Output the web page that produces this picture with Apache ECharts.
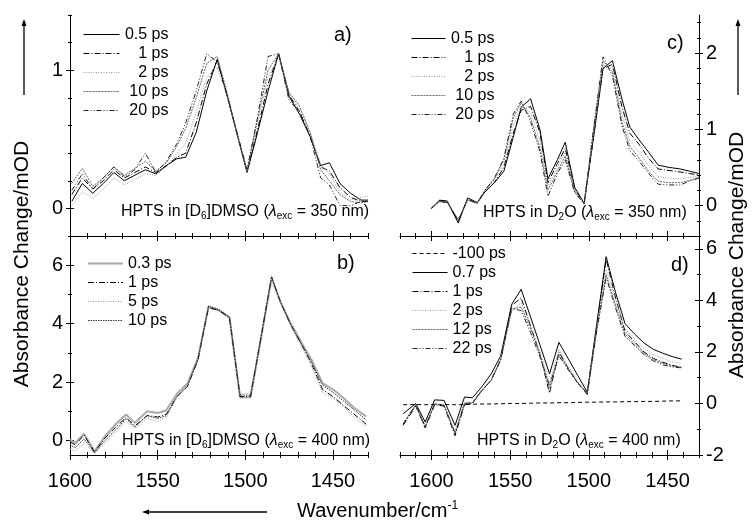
<!DOCTYPE html>
<html><head><meta charset="utf-8">
<script src="https://cdn.jsdelivr.net/npm/echarts@6/dist/echarts.min.js"></script>
<style>html,body{margin:0;padding:0;background:#fff}#c{width:752px;height:525px}</style>
</head><body><div id="c"></div>
<script>
// ---------- data ----------
// Panel a: HPTS in [D6]DMSO, 350 nm excitation
const xA = [1599,1593,1587,1581,1575,1569,1563,1557,1551,1545,1539,1534,1528,1522,1516,1510,1505,1499,1493,1487,1481,1475,1469,1463,1457,1452,1446,1440,1434,1430];
const a_0_5ps = [0.05,0.18,0.11,0.18,0.26,0.20,0.24,0.28,0.25,0.31,0.36,0.37,0.55,0.85,1.08,0.80,0.55,0.26,0.55,0.85,1.12,0.81,0.68,0.52,0.31,0.33,0.18,0.11,0.06,0.06];
const a_1ps   = [0.10,0.22,0.14,0.20,0.28,0.22,0.26,0.30,0.26,0.31,0.37,0.40,0.62,0.90,1.07,0.80,0.56,0.27,0.57,0.90,1.12,0.82,0.70,0.52,0.30,0.27,0.15,0.08,0.05,0.05];
const a_2ps   = [0.02,0.12,0.07,0.14,0.22,0.17,0.21,0.25,0.24,0.30,0.40,0.47,0.70,0.95,1.02,0.80,0.55,0.27,0.62,0.95,1.10,0.83,0.72,0.55,0.32,0.25,0.12,0.06,0.08,0.09];
const a_10ps  = [0.18,0.29,0.16,0.22,0.30,0.24,0.29,0.34,0.27,0.33,0.45,0.58,0.80,1.05,1.10,0.82,0.56,0.27,0.65,1.00,1.12,0.84,0.74,0.55,0.28,0.20,0.10,0.05,0.04,0.05];
const a_20ps  = [0.13,0.25,0.14,0.22,0.30,0.23,0.28,0.40,0.26,0.34,0.47,0.62,0.85,1.12,1.06,0.80,0.56,0.28,0.66,1.10,1.12,0.78,0.70,0.52,0.22,0.17,0.02,0.02,0.05,0.05];

// Panel b: HPTS in [D6]DMSO, 400 nm excitation
const xB = [1600,1597,1592,1586,1580,1574,1568,1563,1556,1550,1545,1539,1533,1527,1521,1515,1509,1503,1497,1491,1485,1480,1474,1468,1462,1456,1450,1444,1438,1431];
const b_0_3ps = [0.03,-0.09,0.23,-0.37,0.15,0.55,0.89,0.60,1.00,0.94,1.03,1.60,1.95,2.80,4.57,4.45,4.20,1.47,1.48,3.50,5.55,4.75,4.00,3.35,2.74,1.96,1.75,1.45,1.12,0.82];
const b_1ps   = [-0.05,-0.15,0.18,-0.40,0.08,0.45,0.78,0.50,0.85,0.80,0.90,1.50,1.85,2.75,4.55,4.45,4.20,1.50,1.50,3.55,5.60,4.75,3.95,3.30,2.60,1.75,1.50,1.20,0.90,0.55];
const b_5ps   = [-0.30,-0.35,-0.10,-0.45,-0.10,0.25,0.65,0.40,0.75,0.65,0.80,1.50,1.90,2.85,4.62,4.50,4.25,1.60,1.60,3.60,5.65,4.70,3.90,3.20,2.50,1.65,1.45,1.15,0.80,0.45];
const b_10ps  = [-0.15,-0.25,0.05,-0.42,0.00,0.35,0.75,0.45,0.85,0.75,0.85,1.50,1.85,2.80,4.60,4.48,4.22,1.55,1.55,3.55,5.60,4.75,3.95,3.30,2.65,1.90,1.65,1.35,1.05,0.70];

// Panel c: HPTS in D2O, 350 nm excitation
const xC = [1600,1595,1590,1583,1577,1571,1566,1560,1554,1548,1543,1537,1531,1526,1520,1515,1509,1503,1497,1491,1485,1479,1474,1468,1462,1456,1449,1442,1436,1430];
const c_0_5ps = [-0.04,0.07,0.06,-0.23,0.10,0.04,0.18,0.30,0.45,0.90,1.29,1.40,0.99,0.35,0.60,0.83,0.24,0.03,0.90,1.80,1.90,1.40,1.03,0.86,0.70,0.53,0.50,0.48,0.45,0.42];
const c_1ps   = [-0.04,0.06,0.05,-0.20,0.08,0.03,0.18,0.30,0.50,0.95,1.25,1.30,0.95,0.30,0.55,0.75,0.22,0.02,0.90,1.80,1.85,1.30,0.95,0.80,0.62,0.48,0.46,0.44,0.42,0.40];
const c_2ps   = [-0.03,0.05,0.05,-0.18,0.08,0.03,0.20,0.33,0.55,1.05,1.30,1.22,0.85,0.25,0.50,0.70,0.20,0.03,0.95,1.85,1.80,1.20,0.85,0.70,0.52,0.38,0.36,0.35,0.37,0.38];
const c_10ps  = [-0.03,0.05,0.04,-0.18,0.07,0.03,0.20,0.35,0.60,1.15,1.35,1.15,0.75,0.20,0.45,0.65,0.18,0.03,1.00,1.90,1.75,1.10,0.78,0.62,0.45,0.32,0.30,0.30,0.33,0.37];
const c_20ps  = [-0.03,0.05,0.04,-0.20,0.08,0.03,0.20,0.36,0.62,1.20,1.37,1.10,0.70,0.12,0.42,0.60,0.17,0.02,1.00,1.95,1.70,1.05,0.72,0.58,0.42,0.28,0.27,0.27,0.32,0.36];

// Panel d: HPTS in D2O, 400 nm excitation
const xD = [1618,1610,1604,1598,1592,1585,1579,1574,1568,1562,1556,1549,1543,1537,1531,1525,1519,1513,1507,1501,1495,1489,1483,1477,1471,1465,1459,1453,1447,1441];
const d_m100ps = [-0.05,-0.04,-0.05,-0.04,-0.04,-0.05,-0.04,-0.03,-0.02,-0.02,-0.01,0.00,0.00,0.01,0.02,0.02,0.03,0.03,0.04,0.05,0.05,0.06,0.06,0.07,0.07,0.08,0.08,0.09,0.10,0.10];
const d_0_7ps  = [-0.40,0.00,-0.72,0.14,0.12,-0.85,0.25,0.22,0.65,1.15,1.85,3.85,4.43,3.35,2.26,1.15,2.37,1.73,1.08,0.44,3.07,5.70,4.30,3.10,2.70,2.35,2.10,1.95,1.82,1.72];
const d_1ps    = [-0.85,-0.10,-0.95,-0.05,-0.10,-1.25,-0.05,0.00,0.50,0.90,1.70,3.80,4.10,3.00,1.90,0.40,2.00,1.35,0.80,0.35,3.00,5.60,4.10,2.80,2.40,2.00,1.75,1.60,1.48,1.40];
const d_2ps    = [-0.75,-0.05,-0.85,0.00,-0.05,-1.10,0.05,0.05,0.55,0.95,1.75,3.60,3.90,3.00,2.00,0.80,2.10,1.45,0.85,0.40,2.90,5.20,4.00,2.90,2.50,2.15,1.90,1.75,1.62,1.55];
const d_12ps   = [-0.80,-0.05,-0.90,-0.02,-0.08,-1.15,0.00,0.02,0.50,0.90,1.70,3.65,3.75,2.90,1.90,0.60,1.90,1.35,0.80,0.40,2.85,5.00,3.80,2.70,2.30,1.95,1.70,1.55,1.45,1.40];
const d_22ps   = [-0.80,-0.05,-0.90,-0.02,-0.08,-1.15,0.00,0.02,0.50,0.90,1.70,3.70,3.60,2.75,1.80,0.70,1.85,1.30,0.78,0.40,2.80,4.90,3.70,2.60,2.25,1.90,1.65,1.50,1.42,1.38];

// tick labels
const xTickLabels = [1450, 1500, 1550, 1600];
const aYTicks = [0, 1];
const bYTicks = [0, 2, 4, 6];
const cYTicks = [0, 1, 2];
const dYTicks = [-2, 0, 2, 4, 6];

// ---------- build ----------
const FONT = "'Liberation Sans', Arial, Helvetica, sans-serif";
const BLK = '#000';
function range(a, b, step) { const out = []; const n = Math.round((b - a) / step); for (let i = 0; i <= n; i++) out.push(+(a + i * step).toFixed(4)); return out; }

const ST = {
  solid:   { type: 'solid', color: '#000', width: 1 },
  dashdot: { type: [6, 2, 1, 2], color: '#000', width: 1 },
  dotLt:   { type: [1, 1.5], color: '#999', width: 1 },
  dotGr:   { type: [2, 1], color: '#666', width: 1 },
  dotBk:   { type: [1.5, 1], color: '#333', width: 1 },
  dashdd:  { type: [5, 2, 1, 2, 1, 2], color: '#222', width: 1 },
  dash:    { type: [4, 3], color: '#000', width: 1 },
  gray2:   { type: 'solid', color: '#aaa', width: 2 }
};

const grid = [
  { left: 70, top: 15, width: 298, height: 221 },   // a
  { left: 70, top: 236, width: 298, height: 219 },  // b
  { left: 400, top: 15, width: 299, height: 221 },  // c
  { left: 400, top: 236, width: 299, height: 219 }  // d
];
const xAxis = [], yAxis = [], series = [];
const tl = { color: BLK, width: 1 };
const plain = v => String(v);

function addX(g, min, max, showLabels) {
  const idx = xAxis.length;
  const minors = range(min, max, 10);
  const common = { type: 'value', gridIndex: g, min, max, inverse: true, position: 'bottom',
    splitLine: { show: false }, axisLine: { show: false, onZero: false }, axisLabel: { show: false } };
  xAxis.push(Object.assign({}, common, {
    axisLine: { show: true, onZero: false, lineStyle: { color: BLK, width: 1 } },
    axisTick: { show: true, inside: true, length: 3, customValues: minors, lineStyle: tl },
    axisLabel: { show: showLabels, customValues: xTickLabels, formatter: plain, margin: 16, fontSize: 20, color: BLK, fontFamily: FONT }
  }));
  xAxis.push(Object.assign({}, common, { axisTick: { show: true, inside: false, length: 3, customValues: minors, lineStyle: tl } }));
  xAxis.push(Object.assign({}, common, { axisTick: { show: true, inside: true, length: 5, customValues: xTickLabels, lineStyle: tl } }));
  xAxis.push(Object.assign({}, common, { axisTick: { show: true, inside: false, length: 5, customValues: xTickLabels, lineStyle: tl } }));
  return idx;
}
function addY(g, min, max, pos, majors, minors) {
  const idx = yAxis.length;
  const common = { type: 'value', gridIndex: g, min, max, position: pos,
    splitLine: { show: false }, axisLine: { show: false, onZero: false }, axisLabel: { show: false } };
  yAxis.push(Object.assign({}, common, {
    axisLine: { show: true, onZero: false, lineStyle: { color: BLK, width: 1 } },
    axisTick: { show: true, inside: false, length: 4, customValues: majors, lineStyle: tl },
    axisLabel: { show: true, customValues: majors, formatter: plain, margin: 7, fontSize: 20, color: BLK, fontFamily: FONT }
  }));
  yAxis.push(Object.assign({}, common, { axisTick: { show: true, inside: true, length: 4, customValues: majors, lineStyle: tl } }));
  yAxis.push(Object.assign({}, common, { axisTick: { show: true, inside: false, length: 2, customValues: minors, lineStyle: tl } }));
  yAxis.push(Object.assign({}, common, { axisTick: { show: true, inside: true, length: 2, customValues: minors, lineStyle: tl } }));
  return idx;
}
function addS(name, xs, ys, xi, yi, st) {
  series.push({ type: 'line', name, xAxisIndex: xi, yAxisIndex: yi, symbol: 'none', silent: true,
    animation: false, lineStyle: st, itemStyle: { color: st.color },
    data: xs.map((x, i) => [x, ys[i]]) });
}

const xa = addX(0, 1430, 1600, false), ya = addY(0, -0.2, 1.4, 'left', aYTicks, range(-0.2, 1.4, 0.2));
const xb = addX(1, 1430, 1600, true),  yb = addY(1, -0.5, 7, 'left', bYTicks, range(0, 7, 1));
const xc = addX(2, 1430, 1620, false), yc = addY(2, -0.4, 2.5, 'right', cYTicks, range(-0.4, 2.4, 0.2));
const xd = addX(3, 1430, 1620, true),  yd = addY(3, -2, 6.5, 'right', dYTicks, range(-2, 6, 1));

addS('0.5 ps', xA, a_0_5ps, xa, ya, ST.solid);
addS('1 ps', xA, a_1ps, xa, ya, ST.dashdot);
addS('2 ps', xA, a_2ps, xa, ya, ST.dotLt);
addS('10 ps', xA, a_10ps, xa, ya, ST.dotGr);
addS('20 ps', xA, a_20ps, xa, ya, ST.dashdd);

addS('0.3 ps', xB, b_0_3ps, xb, yb, ST.gray2);
addS('1 ps', xB, b_1ps, xb, yb, ST.dashdot);
addS('5 ps', xB, b_5ps, xb, yb, ST.dotLt);
addS('10 ps', xB, b_10ps, xb, yb, ST.dotBk);

addS('0.5 ps', xC, c_0_5ps, xc, yc, ST.solid);
addS('1 ps', xC, c_1ps, xc, yc, ST.dashdot);
addS('2 ps', xC, c_2ps, xc, yc, ST.dotLt);
addS('10 ps', xC, c_10ps, xc, yc, ST.dotGr);
addS('20 ps', xC, c_20ps, xc, yc, ST.dashdd);

addS('-100 ps', xD, d_m100ps, xd, yd, ST.dash);
addS('0.7 ps', xD, d_0_7ps, xd, yd, ST.solid);
addS('1 ps', xD, d_1ps, xd, yd, ST.dashdot);
addS('2 ps', xD, d_2ps, xd, yd, ST.dotLt);
addS('12 ps', xD, d_12ps, xd, yd, ST.dotGr);
addS('22 ps', xD, d_22ps, xd, yd, ST.dashdd);

const HIDE = { color: 'rgba(0,0,0,0)', opacity: 0, borderWidth: 0 };
function legend(left, top, iw, items, rightW) {
  const lg = { left, top, orient: 'vertical', itemWidth: iw, itemHeight: 14, itemGap: 2, selectedMode: false,
    data: items.map(([n, st]) => ({ name: n, lineStyle: st, itemStyle: HIDE })),
    textStyle: { fontSize: 16, fontFamily: FONT, color: BLK, lineHeight: 17 } };
  if (rightW) {
    lg.formatter = n => '{r|' + n + '}';
    lg.textStyle.rich = { r: { width: rightW, align: 'right', fontSize: 16, fontFamily: FONT, color: BLK, lineHeight: 17 } };
  }
  return lg;
}

const sub = { fontSize: 10, fontFamily: FONT, verticalAlign: 'bottom', lineHeight: 18 };
const lam = { fontSize: 16, fontFamily: FONT, fontStyle: 'italic' };
function note(x, y, t) {
  return { type: 'text', x, y, style: { text: t, font: '16px ' + FONT, fill: BLK, align: 'left', verticalAlign: 'middle',
    rich: { s: sub, l: lam } } };
}
function letter(x, y, t) {
  return { type: 'text', x, y, style: { text: t, font: '20px ' + FONT, fill: BLK, align: 'left', verticalAlign: 'middle' } };
}
function arrow(x1, y1, x2, y2) {
  const ang = Math.atan2(y2 - y1, x2 - x1), L = 7, W = 2.5;
  const bx = x2 - L * Math.cos(ang), by = y2 - L * Math.sin(ang);
  const px = -Math.sin(ang) * W, py = Math.cos(ang) * W;
  return [
    { type: 'line', shape: { x1, y1, x2: bx, y2: by }, style: { stroke: BLK, lineWidth: 1.3 } },
    { type: 'polygon', shape: { points: [[x2, y2], [bx + px, by + py], [bx - px, by - py]] }, style: { fill: BLK } }
  ];
}

const graphic = [
  note(121, 212, 'HPTS in [D{s|6}]DMSO ({l|λ}{s|exc} = 350 nm)'),
  note(122, 441, 'HPTS in [D{s|6}]DMSO ({l|λ}{s|exc} = 400 nm)'),
  note(483, 213, 'HPTS in D{s|2}O ({l|λ}{s|exc} = 350 nm)'),
  note(477, 441, 'HPTS in D{s|2}O ({l|λ}{s|exc} = 400 nm)'),
  letter(334, 35, 'a)'), letter(337, 263, 'b)'), letter(667, 43, 'c)'), letter(671, 265, 'd)'),
  { type: 'text', x: 22, y: 264, rotation: Math.PI / 2,
    style: { text: 'Absorbance Change/mOD', font: '21px ' + FONT, fill: BLK, align: 'center', verticalAlign: 'middle' } },
  { type: 'text', x: 737, y: 255, rotation: Math.PI / 2,
    style: { text: 'Absorbance Change/mOD', font: '21px ' + FONT, fill: BLK, align: 'center', verticalAlign: 'middle' } },
  { type: 'text', x: 297, y: 511,
    style: { text: 'Wavenumber/cm{sp|-1}', font: '20px ' + FONT, fill: BLK, align: 'left', verticalAlign: 'middle',
      rich: { sp: { fontSize: 12, fontFamily: FONT, verticalAlign: 'top', lineHeight: 22 } } } },
  ...arrow(24, 95, 24, 19),
  ...arrow(738, 95, 738, 19),
  ...arrow(267, 512, 142, 512)
];

const chart = echarts.init(document.getElementById('c'), null, { renderer: 'canvas' });
chart.setOption({
  animation: false,
  backgroundColor: '#fff',
  grid, xAxis, yAxis, series, graphic,
  legend: [
    legend(78, 21, 36, [['0.5 ps', ST.solid], ['1 ps', ST.dashdot], ['2 ps', ST.dotLt], ['10 ps', ST.dotGr], ['20 ps', ST.dashdd]], 44),
    legend(82, 250, 35, [['0.3 ps', ST.gray2], ['1 ps', ST.dashdot], ['5 ps', ST.dotLt], ['10 ps', ST.dotBk]]),
    legend(406, 25, 34, [['0.5 ps', ST.solid], ['1 ps', ST.dashdot], ['2 ps', ST.dotLt], ['10 ps', ST.dotGr], ['20 ps', ST.dashdd]], 44),
    legend(407, 240, 35, [['-100 ps', ST.dash], ['0.7 ps', ST.solid], ['1 ps', ST.dashdot], ['2 ps', ST.dotLt], ['12 ps', ST.dotGr], ['22 ps', ST.dashdd]])
  ]
});
</script></body></html>
